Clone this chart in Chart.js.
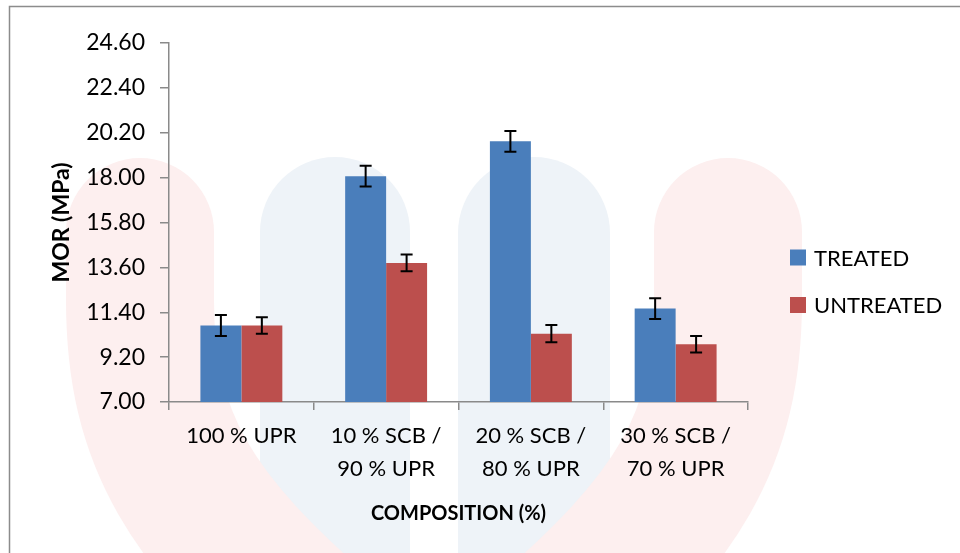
<!DOCTYPE html>
<html>
<head>
<meta charset="utf-8">
<script src="https://cdn.jsdelivr.net/npm/chart.js@4/dist/chart.umd.min.js"></script>
<style>
  html, body { margin: 0; padding: 0; background: #fff; }
  #wrap { width: 960px; height: 553px; }
</style>
</head>
<body>
<div id="wrap"><canvas id="chart" width="960" height="553"></canvas></div>
<script>
// Composition categories (x axis)
const categories = [
  '100 % UPR',
  ['10 % SCB /', '90 % UPR'],
  ['20 % SCB /', '80 % UPR'],
  ['30 % SCB /', '70 % UPR']
];

// Modulus of rupture, MPa
const treated = [10.75, 18.07, 19.78, 11.58];
const treatedErr = [0.51, 0.51, 0.51, 0.51];
const untreated = [10.75, 13.82, 10.35, 9.83];
const untreatedErr = [0.41, 0.41, 0.42, 0.40];

// y-axis tick values
const yTicks = [7.00, 9.20, 11.40, 13.60, 15.80, 18.00, 20.20, 22.40, 24.60];

const AXIS_GREY = '#8a8a8a';
const FONT = 'Lato, "Open Sans", sans-serif';

// Page background, faint logo shapes and the outer frame
const backdrop = {
  id: 'backdrop',
  beforeDraw(chart) {
    const ctx = chart.ctx;
    ctx.save();
    ctx.fillStyle = '#ffffff';
    ctx.fillRect(0, 0, chart.width, chart.height);

    // two pale blue pillars
    ctx.fillStyle = 'rgb(238,243,248)';
    [[260, 410], [458, 610]].forEach(([x0, x1]) => {
      const r = (x1 - x0) / 2;
      ctx.beginPath();
      ctx.moveTo(x0, 700);
      ctx.lineTo(x0, 157 + r);
      ctx.arc(x0 + r, 157 + r, r, Math.PI, 0);
      ctx.lineTo(x1, 700);
      ctx.closePath();
      ctx.fill();
    });

    // two pale red bands curving toward the middle
    ctx.strokeStyle = 'rgb(253,239,239)';
    ctx.lineWidth = 148;
    ctx.lineCap = 'round';
    const band = (m) => {
      const X = (x) => m ? 868 - x : x;
      ctx.beginPath();
      ctx.moveTo(X(140), 232);
      ctx.lineTo(X(140), 300);
      ctx.bezierCurveTo(X(140), 440, X(190), 520, X(330), 640);
      ctx.stroke();
    };
    band(false);
    band(true);

    // outer frame
    ctx.strokeStyle = '#8c8c8c';
    ctx.lineWidth = 1.5;
    ctx.strokeRect(9.5, 6.5, 1000, 600);
    ctx.restore();
  }
};

// Error bars on every bar
const errorBars = {
  id: 'errorBars',
  afterDatasetsDraw(chart) {
    const ctx = chart.ctx;
    const y = chart.scales.y;
    ctx.save();
    ctx.strokeStyle = '#000';
    ctx.lineWidth = 2;
    chart.data.datasets.forEach((ds, i) => {
      const meta = chart.getDatasetMeta(i);
      meta.data.forEach((bar, j) => {
        const v = ds.data[j], e = ds.errors[j];
        const top = y.getPixelForValue(v + e);
        const bot = y.getPixelForValue(v - e);
        const x = bar.x;
        ctx.beginPath();
        ctx.moveTo(x, top); ctx.lineTo(x, bot);
        ctx.moveTo(x - 6, top); ctx.lineTo(x + 6, top);
        ctx.moveTo(x - 6, bot); ctx.lineTo(x + 6, bot);
        ctx.stroke();
      });
    });
    ctx.restore();
  }
};

// Legend on the right
const sideLegend = {
  id: 'sideLegend',
  afterDraw(chart) {
    const ctx = chart.ctx;
    ctx.save();
    ctx.font = '22px ' + FONT;
    ctx.textBaseline = 'middle';
    ctx.textAlign = 'left';
    chart.data.datasets.forEach((ds, i) => {
      const cy = 257.5 + i * 47.5;
      ctx.fillStyle = ds.backgroundColor;
      ctx.fillRect(790, cy - 8, 16, 16);
      ctx.fillStyle = '#000';
      ctx.fillText(ds.label, 814, cy + 1);
    });
    ctx.restore();
  }
};

new Chart(document.getElementById('chart'), {
  type: 'bar',
  data: {
    labels: categories,
    datasets: [
      { label: 'TREATED', data: treated, errors: treatedErr, backgroundColor: '#4A7EBB' },
      { label: 'UNTREATED', data: untreated, errors: untreatedErr, backgroundColor: '#BC4F4D' }
    ]
  },
  options: {
    responsive: false,
    animation: false,
    devicePixelRatio: 1,
    layout: { padding: { left: 0, top: 43, right: 212, bottom: 0 } },
    categoryPercentage: 0.566,
    barPercentage: 1.0,
    plugins: {
      legend: { display: false },
      tooltip: { enabled: false }
    },
    scales: {
      x: {
        grid: { drawOnChartArea: false, offset: true, tickLength: 8, color: AXIS_GREY, lineWidth: 1.5 },
        border: { display: true, color: AXIS_GREY, width: 1.5 },
        ticks: {
          color: '#000', padding: 10, maxRotation: 0, autoSkip: false,
          font: { family: FONT, size: 22, lineHeight: 1.48 }
        },
        title: {
          display: true, text: 'COMPOSITION (%)', color: '#000',
          font: { family: FONT, size: 20, weight: 'bold', lineHeight: 1.2 },
          padding: { top: 0, bottom: 27 }
        },
        afterFit(scale) { scale.height = 151; }
      },
      y: {
        min: 7, max: 24.6,
        afterBuildTicks(scale) { scale.ticks = yTicks.map(v => ({ value: v })); },
        grid: { drawOnChartArea: false, tickLength: 9, color: AXIS_GREY, lineWidth: 1.5 },
        border: { display: true, color: AXIS_GREY, width: 1.5 },
        ticks: {
          color: '#000', padding: 15,
          font: { family: FONT, size: 23 },
          callback: (v) => Number(v).toFixed(2)
        },
        title: {
          display: true, text: 'MOR (MPa)', color: '#000',
          font: { family: FONT, size: 23, weight: 'bold', lineHeight: 1.2 },
          padding: { top: 48, bottom: 0 }
        },
        afterFit(scale) { scale.width = 169; }
      }
    }
  },
  plugins: [backdrop, errorBars, sideLegend]
});
</script>
</body>
</html>
